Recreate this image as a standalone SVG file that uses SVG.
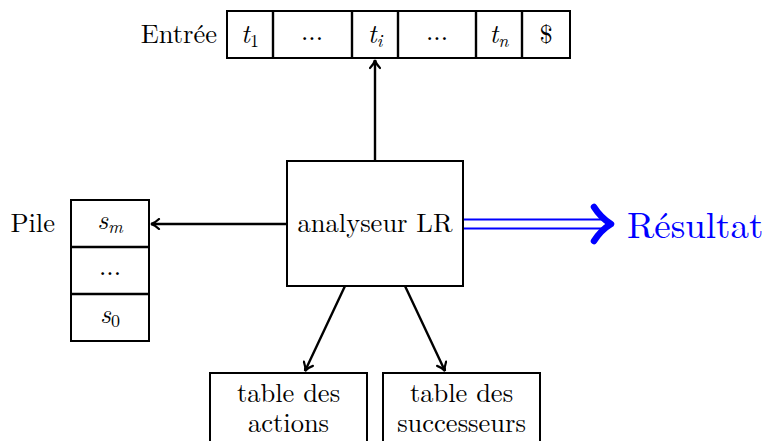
<svg xmlns="http://www.w3.org/2000/svg" width="764" height="441" viewBox="0 0 764 441">
<style>
.box{fill:#fff;stroke:#000;stroke-width:2}
.t{font-family:"Latin Modern Roman","Liberation Serif","DejaVu Serif",serif;font-size:26.5px;fill:#000}
.m{font-style:italic}
.s{font-size:18px}
.c{stroke:#000;stroke-width:2.4;fill:none}
.r{font-size:37px;fill:#0000ff}
</style>
<defs>
<marker id="ah" viewBox="0 0 12 12" refX="10" refY="6" markerWidth="12" markerHeight="12" markerUnits="userSpaceOnUse" orient="auto">
<path d="M2,1 Q6,5 10,6 Q6,7 2,11" fill="none" stroke="#000" stroke-width="2.2" stroke-linecap="round"/>
</marker>
</defs>
<g id="connectors">
<line class="c" x1="375" y1="161" x2="375" y2="60" marker-end="url(#ah)"/>
<line class="c" x1="287" y1="224" x2="151" y2="224" marker-end="url(#ah)"/>
<line class="c" x1="345" y1="286" x2="305" y2="371" marker-end="url(#ah)"/>
<line class="c" x1="405" y1="286" x2="445" y2="371" marker-end="url(#ah)"/>
<line x1="463" y1="219.5" x2="603" y2="219.5" stroke="#0000ff" stroke-width="2.2"/>
<line x1="463" y1="228.5" x2="603" y2="228.5" stroke="#0000ff" stroke-width="2.2"/>
<path d="M594,207 Q601,218 611,224 Q601,230 594,241" fill="none" stroke="#0000ff" stroke-width="6.5" stroke-linecap="round" stroke-linejoin="round"/>
</g>
<g id="entree">
<text class="t" x="217" y="43" text-anchor="end">Entrée</text>
<rect class="box" x="227" y="11" width="343" height="47"/>
<line class="c" stroke-width="2" x1="273" y1="11" x2="273" y2="58"/>
<line class="c" stroke-width="2" x1="352" y1="11" x2="352" y2="58"/>
<line class="c" stroke-width="2" x1="398" y1="11" x2="398" y2="58"/>
<line class="c" stroke-width="2" x1="476" y1="11" x2="476" y2="58"/>
<line class="c" stroke-width="2" x1="522" y1="11" x2="522" y2="58"/>
<text class="t" x="250" y="43" text-anchor="middle"><tspan class="m">t</tspan><tspan class="s" dy="4">1</tspan></text>
<text class="t" x="312" y="40" text-anchor="middle">...</text>
<text class="t" x="375" y="43" text-anchor="middle"><tspan class="m">t</tspan><tspan class="m s" dy="4">i</tspan></text>
<text class="t" x="437" y="40" text-anchor="middle">...</text>
<text class="t" x="499" y="43" text-anchor="middle"><tspan class="m">t</tspan><tspan class="m s" dy="4">n</tspan></text>
<text class="t" x="546" y="43" text-anchor="middle">$</text>
</g>
<g id="pile">
<text class="t" x="55" y="232" text-anchor="end">Pile</text>
<rect class="box" x="71" y="200" width="78" height="141"/>
<line class="c" stroke-width="2" x1="71" y1="247" x2="149" y2="247"/>
<line class="c" stroke-width="2" x1="71" y1="294" x2="149" y2="294"/>
<text class="t" x="110" y="229" text-anchor="middle"><tspan class="m">s</tspan><tspan class="m s" dy="4">m</tspan></text>
<text class="t" x="110" y="275" text-anchor="middle">...</text>
<text class="t" x="110" y="323" text-anchor="middle"><tspan class="m">s</tspan><tspan class="s" dy="4">0</tspan></text>
</g>
<g id="analyseur">
<rect class="box" x="287" y="161" width="176" height="125"/>
<text class="t" x="375" y="232" text-anchor="middle">analyseur LR</text>
</g>
<g id="resultat">
<text class="t r" x="627" y="238">Résultat</text>
</g>
<g id="actions">
<rect class="box" x="210" y="373" width="157" height="72"/>
<text class="t" x="288.5" y="402" text-anchor="middle">table des</text>
<text class="t" x="288.5" y="432" text-anchor="middle">actions</text>
</g>
<g id="successeurs">
<rect class="box" x="383" y="373" width="157" height="72"/>
<text class="t" x="461.5" y="402" text-anchor="middle">table des</text>
<text class="t" x="461.5" y="432" text-anchor="middle">successeurs</text>
</g>
</svg>
